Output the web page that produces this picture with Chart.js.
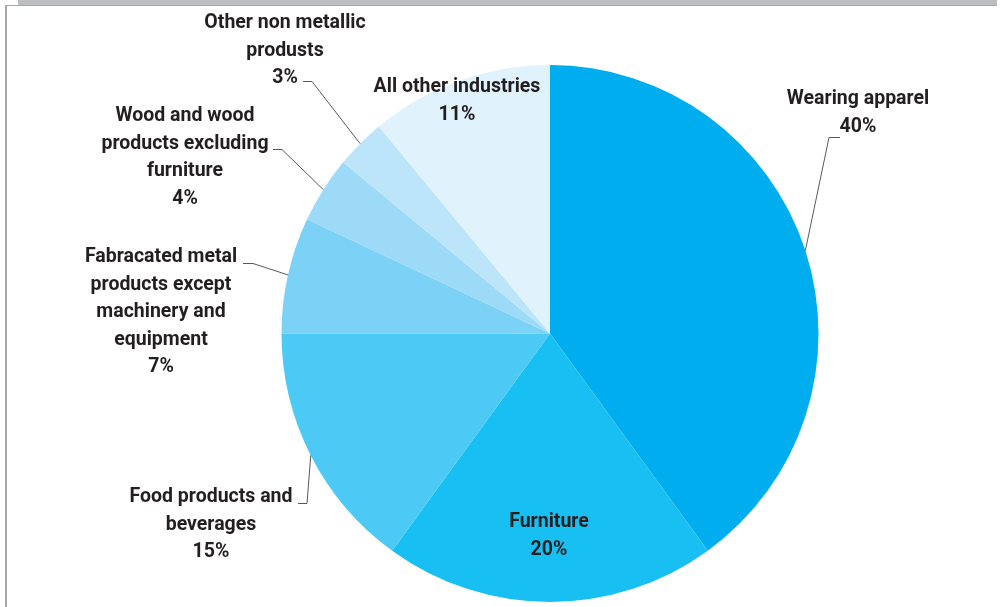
<!DOCTYPE html>
<html>
<head>
<meta charset="utf-8">
<script src="https://cdn.jsdelivr.net/npm/chart.js@4"></script>
<style>
  html, body { margin: 0; padding: 0; background: #fff; }
  #wrap { position: relative; width: 1001px; height: 607px; overflow: hidden; }
  #topbar { position: absolute; left: 18px; top: 0; width: 979px; height: 6px; background: #bcbec0; }
  #topline { position: absolute; left: 5px; top: 5px; width: 992px; height: 1px; background: #a7a9ac; }
  #leftline { position: absolute; left: 5px; top: 5px; width: 2px; height: 602px; background: #a7a9ac; }
  canvas { position: absolute; left: 0; top: 0; }
</style>
</head>
<body>
<div id="wrap">
  <div id="topbar"></div>
  <div id="topline"></div>
  <div id="leftline"></div>
  <canvas id="chartCanvas" width="1001" height="607"></canvas>
</div>
<script>
const categories = [
    "Wearing apparel",
    "Furniture",
    "Food products and beverages",
    "Fabracated metal products except machinery and equipment",
    "Wood and wood products excluding furniture",
    "Other non metallic produsts",
    "All other industries"
];
const shares = [40, 20, 15, 7, 4, 3, 11];
const sliceColors = ["#00aeef", "#17bff2", "#4cc9f5", "#7bd1f6", "#9cdaf7", "#bce5f9", "#e0f2fb"];

// wrapped label text for each slice
const labelLines = [
    ["Wearing apparel"],
    ["Furniture"],
    ["Food products and", "beverages"],
    ["Fabracated metal", "products except", "machinery and", "equipment"],
    ["Wood and wood", "products excluding", "furniture"],
    ["Other non metallic", "produsts"],
    ["All other industries"]
];

// label placement: centre x, first line y; leader: [x start, x elbow, y] or null
const labelPos = [
    { x: 858, y: 99.5, leader: [840, 829, 137] },
    { x: 549, y: 522.5, leader: null },
    { x: 211, y: 497.5, leader: [298, 307, 503] },
    { x: 161, y: 257.5, leader: [243, 253, 263] },
    { x: 185, y: 116.5, leader: [273, 282, 149] },
    { x: 285, y: 23.5, leader: [303, 312, 81] },
    { x: 457, y: 87.5, leader: null }
];

const lineGap = 27.5;

const sliceLabels = {
    id: 'sliceLabels',
    afterDatasetsDraw(chart) {
        const ctx = chart.ctx;
        const arcs = chart.getDatasetMeta(0).data;
        ctx.save();
        arcs.forEach((arc, i) => {
            const pos = labelPos[i];
            if (pos.leader) {
                const p = arc.getProps(['x', 'y', 'startAngle', 'endAngle', 'outerRadius'], true);
                const mid = (p.startAngle + p.endAngle) / 2;
                const ex = p.x + Math.cos(mid) * p.outerRadius;
                const ey = p.y + Math.sin(mid) * p.outerRadius;
                ctx.strokeStyle = '#58595b';
                ctx.lineWidth = 1;
                ctx.beginPath();
                ctx.moveTo(pos.leader[0], pos.leader[2] + 0.5);
                ctx.lineTo(pos.leader[1], pos.leader[2] + 0.5);
                ctx.lineTo(ex, ey);
                ctx.stroke();
            }
            const lines = labelLines[i].concat([shares[i] + '%']);
            ctx.fillStyle = '#231f20';
            ctx.font = 'bold 19.5px Roboto';
            ctx.textAlign = 'center';
            ctx.textBaseline = 'middle';
            lines.forEach((t, k) => ctx.fillText(t, pos.x, pos.y + k * lineGap));
        });
        ctx.restore();
    }
};

const ctx = document.getElementById('chartCanvas').getContext('2d');
new Chart(ctx, {
    type: 'pie',
    data: {
        labels: categories,
        datasets: [{
            data: shares,
            backgroundColor: sliceColors,
            borderWidth: 0
        }]
    },
    options: {
        responsive: false,
        animation: false,
        layout: { padding: { left: 99, right: 0, top: 65, bottom: 5 } },
        plugins: {
            legend: { display: false },
            tooltip: { enabled: false }
        }
    },
    plugins: [sliceLabels]
});
</script>
</body>
</html>
